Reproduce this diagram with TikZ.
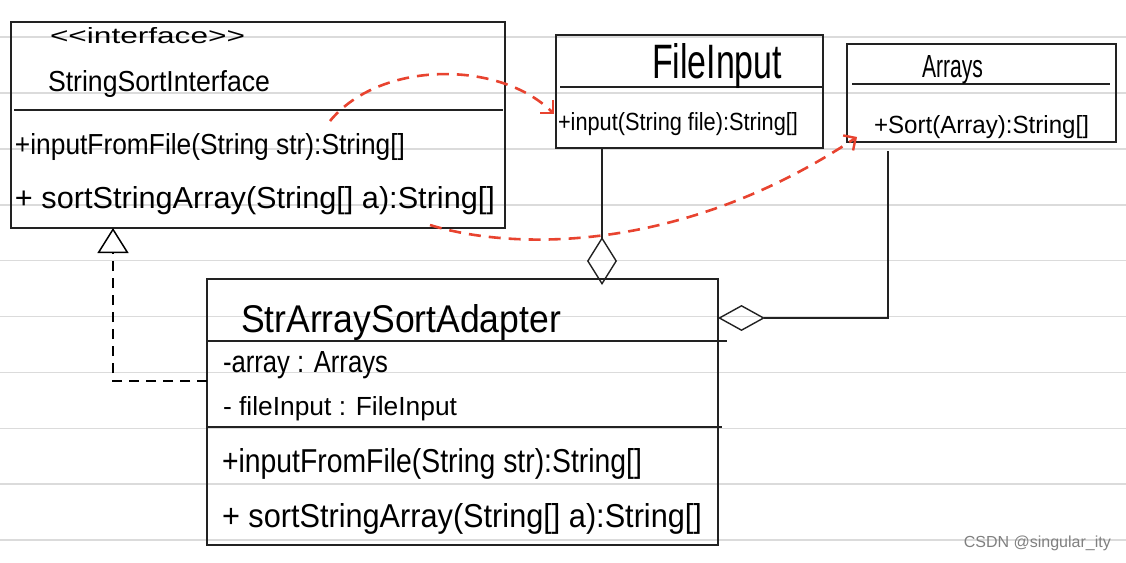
\documentclass[tikz,border=0pt]{standalone}
\usepackage{fontspec}
\setmainfont{Liberation Sans}
\usetikzlibrary{arrows.meta,calc}
\definecolor{depred}{HTML}{E8432F}
\definecolor{inkc}{HTML}{222222}
\tikzset{
  paperline/.style={draw=black!14, line width=1.6pt},
  umlbox/.style={draw=inkc, line width=1.3pt, inner sep=0pt, outer sep=0pt, rectangle},
  divider/.style={draw=inkc, line width=1.3pt},
  hw/.style={anchor=base west, inner sep=0pt, outer sep=0pt, text=black},
  conn/.style={draw=inkc, line width=1.4pt},
  realize/.style={draw=black, line width=2.4pt, dash pattern=on 10pt off 7pt},
  depend/.style={draw=depred, line width=2.6pt, dash pattern=on 12pt off 8pt},
}
\newcommand{\fitwh}[3]{\resizebox{#1pt}{#2pt}{#3}}
\begin{document}
\begin{tikzpicture}[x=1pt,y=-1pt]
\useasboundingbox (0,0) rectangle (1126,562);
% lined paper
\foreach \k in {0,...,9}{
  \draw[paperline] (0,37+55.9*\k) -- (1126,37+55.9*\k);
}
% boxes
\node[umlbox, minimum width=494pt, minimum height=206pt] (iface) at (258,125) {};
\node[umlbox, minimum width=267pt, minimum height=113pt] (finput) at (689.5,91.5) {};
\node[umlbox, minimum width=269pt, minimum height=98pt] (arrays) at (981.5,93) {};
\node[umlbox, minimum width=511pt, minimum height=266pt] (adapter) at (462.5,412) {};
% dividers
\draw[divider] (14,110) -- (503,110);
\draw[divider] (560,87) -- (823,87);
\draw[divider] (852,84) -- (1110,84);
\draw[divider] (207,341) -- (727,341);
\draw[divider] (207,427) -- (722,427);
% interface texts
\node[hw] (ifst) at (50,43) {\fitwh{195}{16}{<{}<interface>{}>}};
\node[hw] (ifname) at (48,91) {\fitwh{222}{21}{StringSortInterface}};
\node[hw] (ifm1) at (15,154) {\fitwh{390}{21}{+inputFromFile(String str):String[]}};
\node[hw] (ifm2) at (15,208) {\fitwh{480}{22}{+ sortStringArray(String[] a):String[]}};
% FileInput texts
\node[hw] (finame) at (652,78) {\fitwh{130}{35}{FileInput}};
\node[hw] (fim1) at (558,130) {\fitwh{240}{18}{+input(String file):String[]}};
% Arrays texts
\node[hw] (arname) at (922,77) {\fitwh{61}{22}{Arrays}};
\node[hw] (arm1) at (874,133) {\fitwh{215}{18}{+Sort(Array):String[]}};
% Adapter texts
\node[hw] (adname) at (241,332) {\fitwh{320}{28}{StrArraySortAdapter}};
\node[hw] (ada1) at (223,372) {\fitwh{165}{21}{-array : Arrays}};
\node[hw] (ada2) at (223,415) {\fitwh{234}{19}{- fileInput : FileInput}};
\node[hw] (adm1) at (222,472) {\fitwh{420}{24}{+inputFromFile(String str):String[]}};
\node[hw] (adm2) at (222,527) {\fitwh{480}{24}{+ sortStringArray(String[] a):String[]}};
% realization
\draw[realize, -{Triangle[open,length=25pt,width=31pt,line width=1.5pt]}]
  ([yshift=-102pt]adapter.north west) -| ([xshift=-145pt]iface.south);
% aggregation to FileInput
\draw[conn, {Diamond[open,length=48pt,width=30pt]}-]
  ([xshift=139.5pt,yshift=-6pt]adapter.north) -- ([xshift=-87.5pt]finput.south);
% aggregation to Arrays
\draw[conn, {Diamond[open,length=47pt,width=26pt]}-]
  ([yshift=-39pt]adapter.north east) -| ([xshift=-93.5pt,yshift=-9pt]arrays.south);
% dependencies
\coordinate (d1s) at (330,121);
\coordinate (d1e) at (554,114);
\coordinate (d2s) at (430,225);
\coordinate (d2e) at (857,137);
\draw[depend, -{Straight Barb[length=9pt,width=18pt,line width=2.4pt]}]
  (d1s) .. controls (380,60) and (500,60) .. (d1e);
\draw[depend, -{Straight Barb[length=9pt,width=18pt,line width=2.4pt]}]
  (d2s) .. controls (510,250) and (680,255) .. (d2e);
% watermark
\node[anchor=east, text=black!50, inner sep=0pt, font=\fontsize{16}{18}\selectfont] (wm) at (1111,543) {CSDN @singular\_ity};
\end{tikzpicture}
\end{document}
